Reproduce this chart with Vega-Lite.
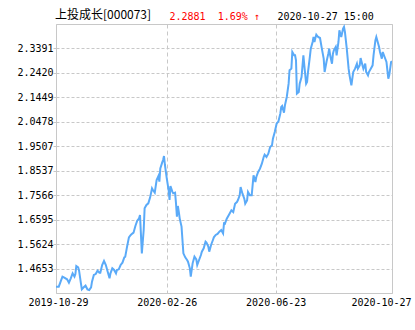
{
  "$schema": "https://vega.github.io/schema/vega-lite/v6.json",
  "width": 336,
  "height": 269,
  "autosize": {"type": "none"},
  "padding": {"left": 56, "top": 24, "right": 23, "bottom": 37},
  "background": "#ffffff",
  "config": {"view": {"stroke": "#c8c8c8", "strokeWidth": 1}},
  "title": {"text": "上投成长[000073]", "anchor": "start", "frame": "group", "orient": "top", "baseline": "alphabetic", "offset": 0, "dy": 20, "dx": -1, "font": "Noto Sans CJK SC", "fontSize": 12, "fontWeight": "normal", "color": "#000000"},
  "data": {"values": [
    {"date": "2019-10-29", "nav": 1.3934}, {"date": "2019-11-01", "nav": 1.3934}, {"date": "2019-11-03", "nav": 1.4132}, {"date": "2019-11-05", "nav": 1.4331}, {"date": "2019-11-07", "nav": 1.4291}, {"date": "2019-11-10", "nav": 1.4225}, {"date": "2019-11-12", "nav": 1.4092}, {"date": "2019-11-14", "nav": 1.4264}, {"date": "2019-11-16", "nav": 1.4463}, {"date": "2019-11-18", "nav": 1.4331}, {"date": "2019-11-19", "nav": 1.4436}, {"date": "2019-11-20", "nav": 1.4754}, {"date": "2019-11-22", "nav": 1.4701}, {"date": "2019-11-23", "nav": 1.4569}, {"date": "2019-11-25", "nav": 1.4066}, {"date": "2019-11-26", "nav": 1.3828}, {"date": "2019-11-28", "nav": 1.3907}, {"date": "2019-11-30", "nav": 1.3973},
    {"date": "2019-12-02", "nav": 1.3828}, {"date": "2019-12-04", "nav": 1.3801}, {"date": "2019-12-06", "nav": 1.3907}, {"date": "2019-12-07", "nav": 1.4132}, {"date": "2019-12-09", "nav": 1.4397}, {"date": "2019-12-11", "nav": 1.4436}, {"date": "2019-12-13", "nav": 1.4569}, {"date": "2019-12-15", "nav": 1.4489}, {"date": "2019-12-16", "nav": 1.4489}, {"date": "2019-12-18", "nav": 1.4794}, {"date": "2019-12-20", "nav": 1.4953}, {"date": "2019-12-22", "nav": 1.4794}, {"date": "2019-12-24", "nav": 1.4529}, {"date": "2019-12-26", "nav": 1.4264}, {"date": "2019-12-27", "nav": 1.4463}, {"date": "2019-12-29", "nav": 1.4661}, {"date": "2019-12-31", "nav": 1.4595},
    {"date": "2020-01-02", "nav": 1.4463}, {"date": "2020-01-03", "nav": 1.4595}, {"date": "2020-01-05", "nav": 1.4622}, {"date": "2020-01-07", "nav": 1.4794}, {"date": "2020-01-09", "nav": 1.4886}, {"date": "2020-01-11", "nav": 1.5098}, {"date": "2020-01-12", "nav": 1.5125}, {"date": "2020-01-14", "nav": 1.5522}, {"date": "2020-01-16", "nav": 1.5892}, {"date": "2020-01-18", "nav": 1.5985}, {"date": "2020-01-20", "nav": 1.6051}, {"date": "2020-01-21", "nav": 1.6077}, {"date": "2020-01-23", "nav": 1.6342}, {"date": "2020-01-25", "nav": 1.6554}, {"date": "2020-01-27", "nav": 1.6646}, {"date": "2020-01-28", "nav": 1.6779}, {"date": "2020-01-30", "nav": 1.5257},
    {"date": "2020-02-01", "nav": 1.6183}, {"date": "2020-02-02", "nav": 1.7043}, {"date": "2020-02-04", "nav": 1.7176}, {"date": "2020-02-06", "nav": 1.7242}, {"date": "2020-02-08", "nav": 1.7480}, {"date": "2020-02-10", "nav": 1.7838}, {"date": "2020-02-11", "nav": 1.7771}, {"date": "2020-02-13", "nav": 1.7666}, {"date": "2020-02-15", "nav": 1.8168}, {"date": "2020-02-17", "nav": 1.8327}, {"date": "2020-02-18", "nav": 1.8102}, {"date": "2020-02-19", "nav": 1.8632}, {"date": "2020-02-21", "nav": 1.8857}, {"date": "2020-02-22", "nav": 1.8962}, {"date": "2020-02-23", "nav": 1.9121}, {"date": "2020-02-24", "nav": 1.8764}, {"date": "2020-02-26", "nav": 1.8235}, {"date": "2020-02-28", "nav": 1.7771}, {"date": "2020-02-29", "nav": 1.7374},
    {"date": "2020-03-01", "nav": 1.7930}, {"date": "2020-03-03", "nav": 1.7705}, {"date": "2020-03-04", "nav": 1.7639}, {"date": "2020-03-06", "nav": 1.7666}, {"date": "2020-03-07", "nav": 1.7242}, {"date": "2020-03-08", "nav": 1.6713}, {"date": "2020-03-09", "nav": 1.7136}, {"date": "2020-03-10", "nav": 1.6911}, {"date": "2020-03-11", "nav": 1.6646}, {"date": "2020-03-13", "nav": 1.6316}, {"date": "2020-03-15", "nav": 1.5257}, {"date": "2020-03-17", "nav": 1.5098}, {"date": "2020-03-19", "nav": 1.4992}, {"date": "2020-03-20", "nav": 1.4926}, {"date": "2020-03-22", "nav": 1.4661}, {"date": "2020-03-23", "nav": 1.4331}, {"date": "2020-03-25", "nav": 1.4860}, {"date": "2020-03-27", "nav": 1.5125}, {"date": "2020-03-29", "nav": 1.5019}, {"date": "2020-03-30", "nav": 1.4794},
    {"date": "2020-04-01", "nav": 1.4992}, {"date": "2020-04-03", "nav": 1.5191}, {"date": "2020-04-04", "nav": 1.5323}, {"date": "2020-04-06", "nav": 1.5455}, {"date": "2020-04-08", "nav": 1.5720}, {"date": "2020-04-09", "nav": 1.5681}, {"date": "2020-04-11", "nav": 1.5522}, {"date": "2020-04-12", "nav": 1.5323}, {"date": "2020-04-14", "nav": 1.5588}, {"date": "2020-04-16", "nav": 1.5786}, {"date": "2020-04-17", "nav": 1.5892}, {"date": "2020-04-19", "nav": 1.5985}, {"date": "2020-04-21", "nav": 1.6025}, {"date": "2020-04-23", "nav": 1.6117}, {"date": "2020-04-25", "nav": 1.6183}, {"date": "2020-04-27", "nav": 1.6051}, {"date": "2020-04-28", "nav": 1.6448}, {"date": "2020-04-29", "nav": 1.6435},
    {"date": "2020-05-01", "nav": 1.6633}, {"date": "2020-05-04", "nav": 1.6832}, {"date": "2020-05-06", "nav": 1.6964}, {"date": "2020-05-08", "nav": 1.6898}, {"date": "2020-05-10", "nav": 1.7229}, {"date": "2020-05-12", "nav": 1.7295}, {"date": "2020-05-13", "nav": 1.7361}, {"date": "2020-05-15", "nav": 1.7560}, {"date": "2020-05-16", "nav": 1.7891}, {"date": "2020-05-18", "nav": 1.7626}, {"date": "2020-05-20", "nav": 1.7428}, {"date": "2020-05-21", "nav": 1.7229}, {"date": "2020-05-23", "nav": 1.7361}, {"date": "2020-05-24", "nav": 1.7692}, {"date": "2020-05-26", "nav": 1.7560}, {"date": "2020-05-28", "nav": 1.7560}, {"date": "2020-05-30", "nav": 1.8354},
    {"date": "2020-06-01", "nav": 1.8089}, {"date": "2020-06-02", "nav": 1.8288}, {"date": "2020-06-04", "nav": 1.8486}, {"date": "2020-06-06", "nav": 1.8618}, {"date": "2020-06-08", "nav": 1.8817}, {"date": "2020-06-10", "nav": 1.9082}, {"date": "2020-06-11", "nav": 1.9174}, {"date": "2020-06-13", "nav": 1.9082}, {"date": "2020-06-15", "nav": 1.9214}, {"date": "2020-06-17", "nav": 1.9479}, {"date": "2020-06-19", "nav": 1.9545}, {"date": "2020-06-20", "nav": 1.9810}, {"date": "2020-06-22", "nav": 2.0074}, {"date": "2020-06-24", "nav": 2.0405}, {"date": "2020-06-26", "nav": 2.0498}, {"date": "2020-06-28", "nav": 2.0802}, {"date": "2020-06-29", "nav": 2.1067}, {"date": "2020-06-30", "nav": 2.1106},
    {"date": "2020-07-02", "nav": 2.0842}, {"date": "2020-07-03", "nav": 2.1133}, {"date": "2020-07-05", "nav": 2.1464}, {"date": "2020-07-07", "nav": 2.1993}, {"date": "2020-07-08", "nav": 2.2523}, {"date": "2020-07-10", "nav": 2.2589}, {"date": "2020-07-11", "nav": 2.3250}, {"date": "2020-07-13", "nav": 2.3118}, {"date": "2020-07-14", "nav": 2.3118}, {"date": "2020-07-15", "nav": 2.2920}, {"date": "2020-07-16", "nav": 2.1596}, {"date": "2020-07-18", "nav": 2.1662}, {"date": "2020-07-19", "nav": 2.1993}, {"date": "2020-07-21", "nav": 2.2258}, {"date": "2020-07-23", "nav": 2.3118}, {"date": "2020-07-24", "nav": 2.2721}, {"date": "2020-07-26", "nav": 2.1993}, {"date": "2020-07-27", "nav": 2.2059}, {"date": "2020-07-28", "nav": 2.2456}, {"date": "2020-07-30", "nav": 2.3052}, {"date": "2020-07-31", "nav": 2.3383},
    {"date": "2020-08-02", "nav": 2.3647}, {"date": "2020-08-03", "nav": 2.3846}, {"date": "2020-08-04", "nav": 2.3647}, {"date": "2020-08-05", "nav": 2.3806}, {"date": "2020-08-06", "nav": 2.3939}, {"date": "2020-08-08", "nav": 2.3846}, {"date": "2020-08-10", "nav": 2.3806}, {"date": "2020-08-12", "nav": 2.3383}, {"date": "2020-08-14", "nav": 2.2986}, {"date": "2020-08-15", "nav": 2.2456}, {"date": "2020-08-17", "nav": 2.2853}, {"date": "2020-08-19", "nav": 2.3184}, {"date": "2020-08-20", "nav": 2.3383}, {"date": "2020-08-21", "nav": 2.3118}, {"date": "2020-08-23", "nav": 2.2787}, {"date": "2020-08-24", "nav": 2.3184}, {"date": "2020-08-25", "nav": 2.3317}, {"date": "2020-08-27", "nav": 2.3449}, {"date": "2020-08-28", "nav": 2.3118}, {"date": "2020-08-30", "nav": 2.3647}, {"date": "2020-08-31", "nav": 2.4111},
    {"date": "2020-09-01", "nav": 2.3978}, {"date": "2020-09-02", "nav": 2.3846}, {"date": "2020-09-04", "nav": 2.4177}, {"date": "2020-09-05", "nav": 2.4243}, {"date": "2020-09-06", "nav": 2.4044}, {"date": "2020-09-08", "nav": 2.3383}, {"date": "2020-09-10", "nav": 2.2589}, {"date": "2020-09-11", "nav": 2.2324}, {"date": "2020-09-13", "nav": 2.1927}, {"date": "2020-09-14", "nav": 2.2192}, {"date": "2020-09-15", "nav": 2.2456}, {"date": "2020-09-17", "nav": 2.2589}, {"date": "2020-09-19", "nav": 2.2787}, {"date": "2020-09-20", "nav": 2.2589}, {"date": "2020-09-22", "nav": 2.2721}, {"date": "2020-09-23", "nav": 2.3012}, {"date": "2020-09-25", "nav": 2.2721}, {"date": "2020-09-26", "nav": 2.2589}, {"date": "2020-09-28", "nav": 2.2787}, {"date": "2020-09-29", "nav": 2.2456},
    {"date": "2020-10-01", "nav": 2.2324}, {"date": "2020-10-02", "nav": 2.2456}, {"date": "2020-10-04", "nav": 2.2589}, {"date": "2020-10-06", "nav": 2.2721}, {"date": "2020-10-07", "nav": 2.3118}, {"date": "2020-10-09", "nav": 2.3714}, {"date": "2020-10-10", "nav": 2.3846}, {"date": "2020-10-11", "nav": 2.3714}, {"date": "2020-10-13", "nav": 2.3449}, {"date": "2020-10-14", "nav": 2.3250}, {"date": "2020-10-16", "nav": 2.2986}, {"date": "2020-10-17", "nav": 2.3250}, {"date": "2020-10-19", "nav": 2.3052}, {"date": "2020-10-21", "nav": 2.2853}, {"date": "2020-10-23", "nav": 2.2192}, {"date": "2020-10-24", "nav": 2.2324}, {"date": "2020-10-26", "nav": 2.2853}, {"date": "2020-10-27", "nav": 2.2881}
  ]},
  "mark": {"type": "line", "color": "#5aaaf8", "strokeWidth": 2, "interpolate": "linear", "clip": true},
  "encoding": {
    "x": {
      "field": "date", "type": "temporal",
      "scale": {"type": "utc", "domain": [{"year": 2019, "month": 10, "date": 29, "utc": true}, {"year": 2020, "month": 10, "date": 27, "utc": true}], "nice": false},
      "axis": {
        "values": [{"year": 2019, "month": 10, "date": 29, "utc": true}, {"year": 2020, "month": 2, "date": 26, "utc": true}, {"year": 2020, "month": 6, "date": 23, "utc": true}, {"year": 2020, "month": 10, "date": 27, "utc": true}],
        "format": "%Y-%m-%d",
        "domain": false,
        "ticks": false,
        "labelPadding": 4,
        "labelFlush": false,
        "labelFont": "DejaVu Sans Mono", "labelFontSize": 10, "labelColor": "#000000",
        "labelOffset": {"condition": [{"test": "datum.value > 1600000000000", "value": -11}, {"test": "datum.value < 1575000000000", "value": 2}], "value": 0},
        "labelOverlap": false,
        "grid": true, "gridColor": "#c8c8c8", "gridDash": [4, 3], "gridWidth": 1,
        "title": "2020-10-27 15:00",
        "titleX": 221, "titleY": -274, "titleAlign": "left", "titleBaseline": "alphabetic", "titleAngle": 0,
        "titleFont": "DejaVu Sans Mono", "titleFontSize": 10, "titleFontWeight": "normal", "titleColor": "#000000"
      }
    },
    "y": {
      "field": "nav", "type": "quantitative",
      "scale": {"domain": [1.3682, 2.4362], "nice": false, "zero": false},
      "axis": {
        "values": [1.4653, 1.5624, 1.6595, 1.7566, 1.8537, 1.9507, 2.0478, 2.1449, 2.2420, 2.3391],
        "format": ".4f",
        "domain": false,
        "ticks": true, "tickSize": 3, "tickColor": "#c8c8c8",
        "labelPadding": 0,
        "labelFont": "DejaVu Sans Mono", "labelFontSize": 10, "labelColor": "#000000",
        "grid": true, "gridColor": "#c8c8c8", "gridDash": [3, 2], "gridWidth": 1,
        "title": "2.2881\u00a0\u00a01.69%\u00a0↑",
        "titleX": 113, "titleY": -5, "titleAlign": "left", "titleBaseline": "alphabetic", "titleAngle": 0,
        "titleFont": "DejaVu Sans Mono", "titleFontSize": 10, "titleFontWeight": "normal", "titleColor": "#ff0000"
      }
    }
  }
}
